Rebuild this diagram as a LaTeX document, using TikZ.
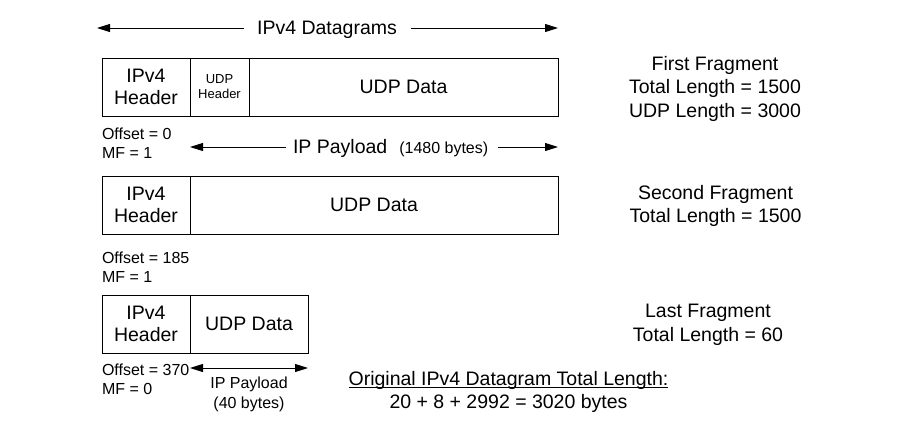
\documentclass[tikz,border=0pt]{standalone}
\usepackage{fontspec}
\setmainfont{Liberation Sans}
\usetikzlibrary{arrows.meta}
\newcommand{\myuline}[1]{\setbox0=\hbox{#1}\rlap{\rule[-2.6pt]{\wd0}{0.8pt}}\copy0}
\begin{document}
\begin{tikzpicture}[x=1pt,y=-1pt,
  bigf/.style={font=\fontsize{19.5}{23.5}\selectfont},
  midf/.style={font=\fontsize{16}{19}\selectfont},
  lbl/.style={inner sep=0pt, outer sep=0pt, align=center},
  field/.style={draw, line width=0.9pt, minimum height=58pt, inner sep=0pt, outer sep=0pt,
    anchor=north west, align=center, font=\fontsize{19.5}{22.5}\selectfont},
  conn/.style={line width=0.9pt, -{Triangle[length=13pt,width=8pt]}},
  both/.style={line width=0.9pt, {Triangle[length=13pt,width=8pt]}-{Triangle[length=13pt,width=8pt]}},
]
\useasboundingbox (0,0) rectangle (911,424);

% top arrow
\node[lbl,bigf,anchor=base] (dg) at (327,34) {IPv4 Datagrams};
\coordinate (dgL) at (97,28);
\coordinate (dgR) at (558,28);
\draw[conn, shorten <=13pt] (dg.west |- dgL) -- (dgL);
\draw[conn, shorten <=14pt] (dg.east |- dgR) -- (dgR);

% first fragment
\node[field, minimum width=88pt] (h1) at (102,58) {IPv4\\Header};
\node[field, minimum width=59pt, font=\fontsize{13}{15}\selectfont] (u1) at (h1.north east) {UDP\\Header};
\node[field, minimum width=309pt] (d1) at (u1.north east) {UDP Data};

\node[lbl, midf, align=left, anchor=west] (o1) at (102,143) {Offset = 0\\MF = 1};

\node[lbl, bigf, anchor=base west] (pl1) at (293,153.3) {IP Payload\hspace{12pt}{\fontsize{16}{19}\selectfont(1480 bytes)}};
\coordinate (pl1L) at (190,147);
\coordinate (pl1R) at (558,147);
\draw[conn, shorten <=7pt] (pl1.west |- pl1L) -- (pl1L);
\draw[conn, shorten <=10pt] (pl1.east |- pl1R) -- (pl1R);

% second fragment
\node[field, minimum width=88pt] (h2) at (102,176) {IPv4\\Header};
\node[field, minimum width=368pt] (d2) at (h2.north east) {UDP Data};

\node[lbl, midf, align=left, anchor=west] (o2) at (102,267.5) {Offset = 185\\MF = 1};

% last fragment
\node[field, minimum width=88pt] (h3) at (102,295) {IPv4\\Header};
\node[field, minimum width=118pt] (d3) at (h3.north east) {UDP Data};

\node[lbl, midf, align=left, anchor=west] (o3) at (102,379) {Offset = 370\\MF = 0};
\coordinate (p3L) at (190,368);
\coordinate (p3R) at (308,368);
\draw[both] (p3L) -- (p3R);
\node[lbl, font=\fontsize{16}{20}\selectfont] (pl3) at (249,394) {IP Payload\\(40 bytes)};

% right labels
\node[lbl,bigf] (f1) at (715,88.5) {First Fragment\\Total Length = 1500\\UDP Length = 3000};
\node[lbl,bigf] (f2) at (715.5,206) {Second Fragment\\Total Length = 1500};
\node[lbl,bigf] (f3) at (708,325) {Last Fragment\\Total Length = 60};

\node[lbl,bigf] (orig) at (508.5,392) {\myuline{Original IPv4 Datagram Total Length:}\\20 + 8 + 2992 = 3020 bytes};
\end{tikzpicture}
\end{document}
